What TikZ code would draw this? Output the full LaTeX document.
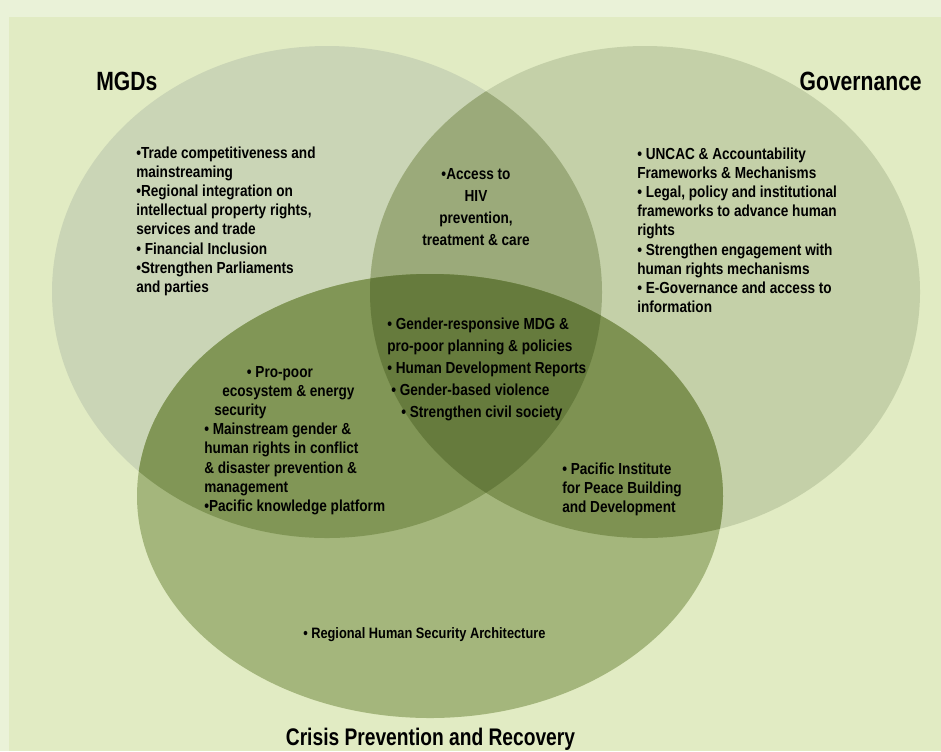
\documentclass[tikz,border=0pt]{standalone}
\usepackage{fontspec}
\setmainfont{Liberation Sans}[FakeStretch=0.85]
\newfontfamily\headfont{Liberation Sans}[FakeStretch=0.8]
\begin{document}
\begin{tikzpicture}[x=0.75pt,y=-0.75pt]
% palette
\definecolor{outerbg}{HTML}{EAF2D8}
\definecolor{panelbg}{HTML}{E1EBC3}
\definecolor{colL}{HTML}{CAD5B6}
\definecolor{colR}{HTML}{C4D0A8}
\definecolor{colB}{HTML}{A4B67C}
\definecolor{colLR}{HTML}{9BAA7A}
\definecolor{colLB}{HTML}{819656}
\definecolor{colRB}{HTML}{7E9252}
\definecolor{colLRB}{HTML}{667B3D}
\tikzset{
  bodytext/.style={inner sep=0pt, text=black, font=\bfseries\fontsize{12pt}{14.4pt}\selectfont},
  widetext/.style={inner sep=0pt, text=black, font=\bfseries\fontsize{12pt}{16.5pt}\selectfont},
  smalltext/.style={inner sep=0pt, text=black, font=\bfseries\fontsize{11.3pt}{14pt}\selectfont},
  headtext/.style={inner sep=0pt, text=black, font=\headfont\bfseries\fontsize{19.8pt}{24pt}\selectfont},
  foottext/.style={inner sep=0pt, text=black, font=\headfont\bfseries\fontsize{18pt}{22pt}\selectfont}
}
\useasboundingbox (0,0) rectangle (941,751);
% background and panel
\fill[outerbg] (0,0) rectangle (941,751);
\fill[panelbg] (9,17) rectangle (941,751);
% three circles
\fill[colL] (327,292) ellipse [x radius=206.25pt, y radius=184.5pt];
\fill[colR] (645,292) ellipse [x radius=206.25pt, y radius=184.5pt];
\fill[colB] (430,496) ellipse [x radius=219.75pt, y radius=166.5pt];
% pairwise overlaps
\begin{scope}
  \clip (327,292) ellipse [x radius=206.25pt, y radius=184.5pt];
  \fill[colLR] (645,292) ellipse [x radius=206.25pt, y radius=184.5pt];
\end{scope}
\begin{scope}
  \clip (327,292) ellipse [x radius=206.25pt, y radius=184.5pt];
  \fill[colLB] (430,496) ellipse [x radius=219.75pt, y radius=166.5pt];
\end{scope}
\begin{scope}
  \clip (645,292) ellipse [x radius=206.25pt, y radius=184.5pt];
  \fill[colRB] (430,496) ellipse [x radius=219.75pt, y radius=166.5pt];
\end{scope}
% common core
\begin{scope}
  \clip (327,292) ellipse [x radius=206.25pt, y radius=184.5pt];
  \clip (645,292) ellipse [x radius=206.25pt, y radius=184.5pt];
  \fill[colLRB] (430,496) ellipse [x radius=219.75pt, y radius=166.5pt];
\end{scope}
% headings
\node[headtext, anchor=base west] (mgds) at (96,90) {MGDs};
\node[headtext, anchor=base east] (gov) at (922,90) {Governance};
\node[foottext, anchor=base] (cpr) at (430.5,745) {Crisis Prevention and Recovery};
% item lists
\node[bodytext, anchor=base west] (mgdlist) at (136,158) {\begin{tabular}[t]{@{}l@{}}
•Trade competitiveness and\\
mainstreaming\\
•Regional integration on\\
intellectual property rights,\\
services and trade\\
• Financial Inclusion\\
•Strengthen Parliaments\\
and parties
\end{tabular}};
\node[bodytext, anchor=base west] (govlist) at (637,159) {\begin{tabular}[t]{@{}l@{}}
• UNCAC \& Accountability\\
Frameworks \& Mechanisms\\
• Legal, policy and institutional\\
frameworks to advance human\\
rights\\
• Strengthen engagement with\\
human rights mechanisms\\
• E-Governance and access to\\
information
\end{tabular}};
\node[widetext, anchor=base] (hivlist) at (476,179) {\begin{tabular}[t]{@{}c@{}}
•Access to\\
HIV\\
prevention,\\
treatment \& care
\end{tabular}};
\node[widetext, anchor=base west] (corelist) at (387,329) {\begin{tabular}[t]{@{}l@{}}
• Gender-responsive MDG \&\\
pro-poor planning \& policies\\
• Human Development Reports\\
\hspace{3pt}• Gender-based violence\\
\hspace{10.5pt}• Strengthen civil society
\end{tabular}};
\node[bodytext, anchor=base west] (crisislist) at (204,377) {\begin{tabular}[t]{@{}l@{}}
\hspace{32pt}• Pro-poor\\
\hspace{13.5pt}ecosystem \& energy\\
\hspace{7.5pt}security\\
• Mainstream gender \&\\
human rights in conflict\\
\& disaster prevention \&\\
management\\
•Pacific knowledge platform
\end{tabular}};
\node[bodytext, anchor=base west] (peacelist) at (562,474) {\begin{tabular}[t]{@{}l@{}}
• Pacific Institute\\
for Peace Building\\
and Development
\end{tabular}};
\node[smalltext, anchor=base west] (securitylist) at (303,638) {• Regional Human Security Architecture};
\end{tikzpicture}
\end{document}
